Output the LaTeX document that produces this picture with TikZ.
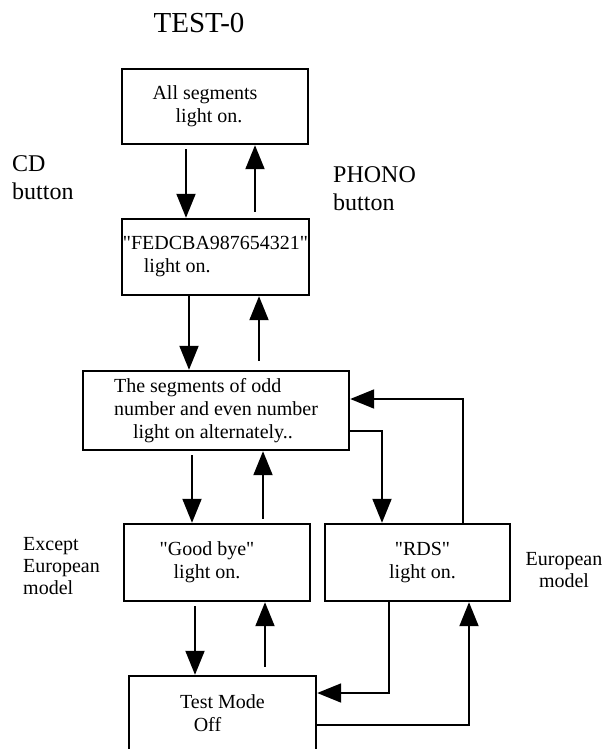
\documentclass[tikz,border=0pt]{standalone}
\usepackage{fontspec}
\setmainfont{Liberation Serif}
\usepackage{tikz}
\usetikzlibrary{arrows.meta}

\begin{document}
\begin{tikzpicture}[x=1pt, y=-1pt,
        box/.style={draw, line width=2.4pt, inner sep=0pt, align=center, font=\fontsize{20}{23}\selectfont},
        lab/.style={inner sep=0pt, align=left, font=\fontsize{24}{28}\selectfont},
        note/.style={inner sep=0pt, font=\fontsize{20}{22}\selectfont},
        flow/.style={line width=1.9pt, -{Triangle[length=24pt, width=19pt]}}]
        \useasboundingbox (0,0) rectangle (603,749);

        % Define the title and the labels
        \node[inner sep=0pt, anchor=base, font=\fontsize{29}{34}\selectfont] (T) at (199,33) {TEST-0};
        \node[lab, anchor=base west] (L1) at (12,199) {CD\\button};
        \node[lab, anchor=base west] (L2) at (333,210) {PHONO\\button};
        \node[note, align=left, anchor=base west] (L3) at (23,594) {Except\\European\\model};
        \node[note, align=center, anchor=base] (L4) at (564,587) {European\\model};

        % Define the boxes
        \node[box, minimum width=186, minimum height=75] (A) at (215,106.5) {All segments\hspace*{20pt}\\light on.\hspace*{12pt}};
        \node[box, align=left, minimum width=187, minimum height=76] (B) at (215.5,257) {\textquotedbl FEDCBA987654321\textquotedbl\\\hspace*{21pt}light on.};
        \node[box, align=left, minimum width=266, minimum height=79] (C) at (216,410.5) {The segments of odd\\number and even number\hspace*{27pt}\\\hspace*{19pt}light on alternately..};
        \node[box, minimum width=186, minimum height=77] (D) at (217,562.5) {\textquotedbl Good bye\textquotedbl\hspace*{20pt}\\light on.\hspace*{20pt}};
        \node[box, minimum width=185, minimum height=77] (E) at (417.5,562.5) {\textquotedbl RDS\textquotedbl\hspace*{-10pt}\\light on.\hspace*{-10pt}};
        \node[box, minimum width=187, minimum height=75] (F) at (222.5,713.5) {Test Mode\\Off\hspace*{30pt}};

        % Define the arrows
        \draw[flow, shorten <=4pt] ([xshift=-29pt]A.south) -- ([xshift=-29.5pt]B.north);
        \draw[flow, shorten <=6pt] ([xshift=39.5pt]B.north) -- ([xshift=40pt]A.south);
        \draw[flow] ([xshift=-26.5pt]B.south) -- ([xshift=-27pt]C.north);
        \draw[flow, shorten <=9pt] ([xshift=43pt]C.north) -- ([xshift=43.5pt]B.south);
        \draw[flow, shorten <=4pt] ([xshift=-24pt]C.south) -- ([xshift=-25pt]D.north);
        \draw[flow, shorten <=4pt] ([xshift=46pt]D.north) -- ([xshift=47pt]C.south);
        \draw[flow, shorten <=4pt] ([xshift=-22pt]D.south) -- ([xshift=-27.5pt]F.north);
        \draw[flow, shorten <=8pt] ([xshift=42.5pt]F.north) -- ([xshift=48pt]D.south);
        \draw[flow] ([yshift=-20.5pt]C.east) -| ([xshift=-35.5pt]E.north);
        \draw[flow] ([xshift=45.5pt]E.north) |- ([yshift=11.5pt]C.east);
        \draw[flow] ([xshift=-28.5pt]E.south) |- ([yshift=20.5pt]F.east);
        \draw[flow] ([yshift=-11.5pt]F.east) -| ([xshift=51.5pt]E.south);
\end{tikzpicture}
\end{document}
